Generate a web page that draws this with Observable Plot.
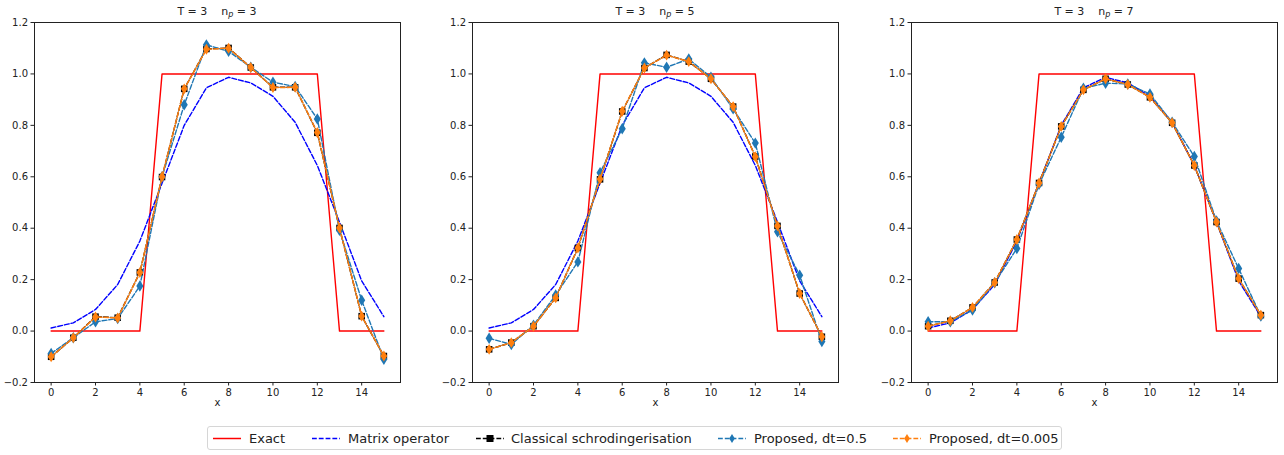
<!DOCTYPE html>
<html>
<head>
<meta charset="utf-8">
<script src="https://cdn.jsdelivr.net/npm/d3@7"></script>
<script src="https://cdn.jsdelivr.net/npm/@observablehq/plot@0.6"></script>
<style>
  html, body { margin: 0; padding: 0; background: #fff; overflow: hidden; }
  #root { position: relative; width: 1284px; height: 455px; font-family: "DejaVu Sans", sans-serif; color: #222; }
  .panel { position: absolute; top: 0; }
  .title { position: absolute; top: 5px; font-size: 11px; white-space: pre; text-align: center; width: 366px; color: #222; }
  .title sub { font-size: 8px; vertical-align: -2px; line-height: 0; }
  #legend { position: absolute; left: 207px; top: 426px; width: 855px; height: 24px; border: 1px solid #d6d6d6; border-radius: 3px; box-sizing: border-box; }
  .li { position: absolute; top: 0; height: 24px; line-height: 23px; font-size: 13px; color: #222; white-space: nowrap; }
  .lh { position: absolute; top: 0; }
</style>
</head>
<body>
<div id="root"></div>
<script>
// ---------- data ----------
const xPos = [0,1,2,3,4,5,6,7,8,9,10,11,12,13,14,15];
const xTicks = [0,2,4,6,8,10,12,14];
const yTicks = [-0.2,0,0.2,0.4,0.6,0.8,1.0,1.2];
const npValues = [3,5,7];
const seriesNames = ["Exact","Matrix operator","Classical schrodingerisation","Proposed, dt=0.5","Proposed, dt=0.005"];

const exact    = [0,0,0,0,0,1,1,1,1,1,1,1,1,0,0,0];
const matrixOp = [0.012,0.032,0.084,0.181,0.350,0.575,0.800,0.946,0.987,0.965,0.913,0.812,0.644,0.424,0.195,0.056];

const classicalNp3 = [-0.100,-0.026,0.056,0.052,0.228,0.599,0.942,1.097,1.101,1.025,0.948,0.948,0.771,0.401,0.058,-0.097];
const dt05Np3      = [-0.087,-0.026,0.036,0.049,0.175,0.600,0.880,1.113,1.088,1.026,0.968,0.951,0.825,0.392,0.120,-0.110];
const dt0005Np3    = [-0.100,-0.026,0.055,0.051,0.228,0.600,0.942,1.096,1.100,1.025,0.947,0.948,0.772,0.401,0.058,-0.097];

const classicalNp5 = [-0.071,-0.045,0.019,0.129,0.323,0.590,0.854,1.023,1.074,1.048,0.981,0.873,0.679,0.409,0.146,-0.022];
const dt05Np5      = [-0.028,-0.052,0.023,0.140,0.269,0.616,0.787,1.043,1.026,1.058,0.987,0.864,0.731,0.386,0.217,-0.041];
const dt0005Np5    = [-0.071,-0.045,0.019,0.129,0.323,0.591,0.855,1.023,1.073,1.048,0.981,0.873,0.678,0.409,0.146,-0.022];

const classicalNp7 = [0.019,0.040,0.092,0.189,0.356,0.576,0.796,0.938,0.981,0.959,0.909,0.810,0.644,0.424,0.204,0.062];
const dt05Np7      = [0.036,0.036,0.082,0.188,0.321,0.571,0.754,0.944,0.964,0.961,0.922,0.812,0.679,0.428,0.243,0.058];
const dt0005Np7    = [0.019,0.040,0.092,0.189,0.356,0.576,0.796,0.938,0.981,0.959,0.909,0.810,0.644,0.424,0.204,0.062];

const panelSeries = [
  [classicalNp3, dt05Np3, dt0005Np3],
  [classicalNp5, dt05Np5, dt0005Np5],
  [classicalNp7, dt05Np7, dt0005Np7]
];

// ---------- styles ----------
const colors = { exact: "red", matrix: "blue", classical: "black", dt05: "#1f77b4", dt0005: "#ff7f0e" };
const dash = "4.8,2";
const thinDiamond = {
  draw(ctx, size) {
    const h = Math.sqrt(size) * 0.75, w = h * 0.62;
    ctx.moveTo(0, -h); ctx.lineTo(w, 0); ctx.lineTo(0, h); ctx.lineTo(-w, 0); ctx.closePath();
  }
};

const root = document.getElementById("root");
const panelLefts = [0, 438, 877];
const rows = (arr) => xPos.map((x, i) => ({x, y: arr[i]}));

npValues.forEach((np, k) => {
  const [cl, d05, d0005] = panelSeries[k];
  const plot = Plot.plot({
    width: 404, height: 415,
    marginLeft: 34, marginRight: 4, marginTop: 22, marginBottom: 33,
    style: { fontFamily: "DejaVu Sans", fontSize: "10px", color: "#222", background: "transparent" },
    x: { domain: [-0.75, 15.75] },
    y: { domain: [-0.2, 1.2] },
    marks: [
      Plot.line(rows(exact), {x: "x", y: "y", stroke: colors.exact, strokeWidth: 1.4}),
      Plot.line(rows(matrixOp), {x: "x", y: "y", stroke: colors.matrix, strokeWidth: 1.4, strokeDasharray: dash}),
      Plot.line(rows(cl), {x: "x", y: "y", stroke: colors.classical, strokeWidth: 1.4, strokeDasharray: dash}),
      Plot.dot(rows(cl), {x: "x", y: "y", symbol: "square", r: 3.7, fill: colors.classical, stroke: "none"}),
      Plot.line(rows(d05), {x: "x", y: "y", stroke: colors.dt05, strokeWidth: 1.4, strokeDasharray: dash}),
      Plot.dot(rows(d05), {x: "x", y: "y", symbol: thinDiamond, r: 4.3, fill: colors.dt05, stroke: "none"}),
      Plot.line(rows(d0005), {x: "x", y: "y", stroke: colors.dt0005, strokeWidth: 1.5, strokeDasharray: dash}),
      Plot.dot(rows(d0005), {x: "x", y: "y", symbol: thinDiamond, r: 4.1, fill: colors.dt0005, stroke: "none"}),
      Plot.frame({stroke: "#222", strokeWidth: 1}),
      Plot.axisY({ticks: yTicks, tickFormat: d3.format(".1f"), tickSize: 3.5, tickPadding: 3, label: null, fontSize: 10}),
      Plot.axisX({ticks: xTicks, tickSize: 3.5, tickPadding: 3, label: null, fontSize: 10}),
      Plot.text(["x"], {frameAnchor: "bottom", dy: 23, text: d => d, fontSize: 10, fill: "#222"})
    ]
  });
  plot.classList.add("panel");
  plot.style.left = panelLefts[k] + "px";
  root.appendChild(plot);

  const t = document.createElement("div");
  t.className = "title";
  t.style.left = (panelLefts[k] + 34) + "px";
  t.innerHTML = `T = 3    n<sub><i>p</i></sub> = ${np}`;
  root.appendChild(t);
});

// ---------- legend ----------
const legend = document.createElement("div");
legend.id = "legend";
root.appendChild(legend);
const legendItems = [
  {name: seriesNames[0], color: colors.exact, dashed: false, marker: null, hx: 4, tx: 41},
  {name: seriesNames[1], color: colors.matrix, dashed: true, marker: null, hx: 103, tx: 140},
  {name: seriesNames[2], color: colors.classical, dashed: true, marker: "square", hx: 267, tx: 303},
  {name: seriesNames[3], color: colors.dt05, dashed: true, marker: "diamond", hx: 509, tx: 546},
  {name: seriesNames[4], color: colors.dt0005, dashed: true, marker: "diamond", hx: 684, tx: 721}
];
legendItems.forEach(it => {
  const ns = "http://www.w3.org/2000/svg";
  const svg = document.createElementNS(ns, "svg");
  svg.setAttribute("width", 30); svg.setAttribute("height", 24);
  svg.setAttribute("class", "lh");
  svg.style.left = it.hx + "px";
  const line = document.createElementNS(ns, "line");
  line.setAttribute("x1", 1); line.setAttribute("x2", 29);
  line.setAttribute("y1", 11.5); line.setAttribute("y2", 11.5);
  line.setAttribute("stroke", it.color); line.setAttribute("stroke-width", 1.5);
  if (it.dashed) line.setAttribute("stroke-dasharray", dash);
  svg.appendChild(line);
  if (it.marker === "square") {
    const r = document.createElementNS(ns, "rect");
    r.setAttribute("x", 11.5); r.setAttribute("y", 8); r.setAttribute("width", 7); r.setAttribute("height", 7);
    r.setAttribute("fill", it.color); svg.appendChild(r);
  } else if (it.marker === "diamond") {
    const p = document.createElementNS(ns, "path");
    p.setAttribute("d", "M15,7 L17.8,11.5 L15,16 L12.2,11.5 Z");
    p.setAttribute("fill", it.color); svg.appendChild(p);
  }
  legend.appendChild(svg);
  const tx = document.createElement("div");
  tx.className = "li";
  tx.style.left = it.tx + "px";
  tx.textContent = it.name;
  legend.appendChild(tx);
});
</script>
</body>
</html>
